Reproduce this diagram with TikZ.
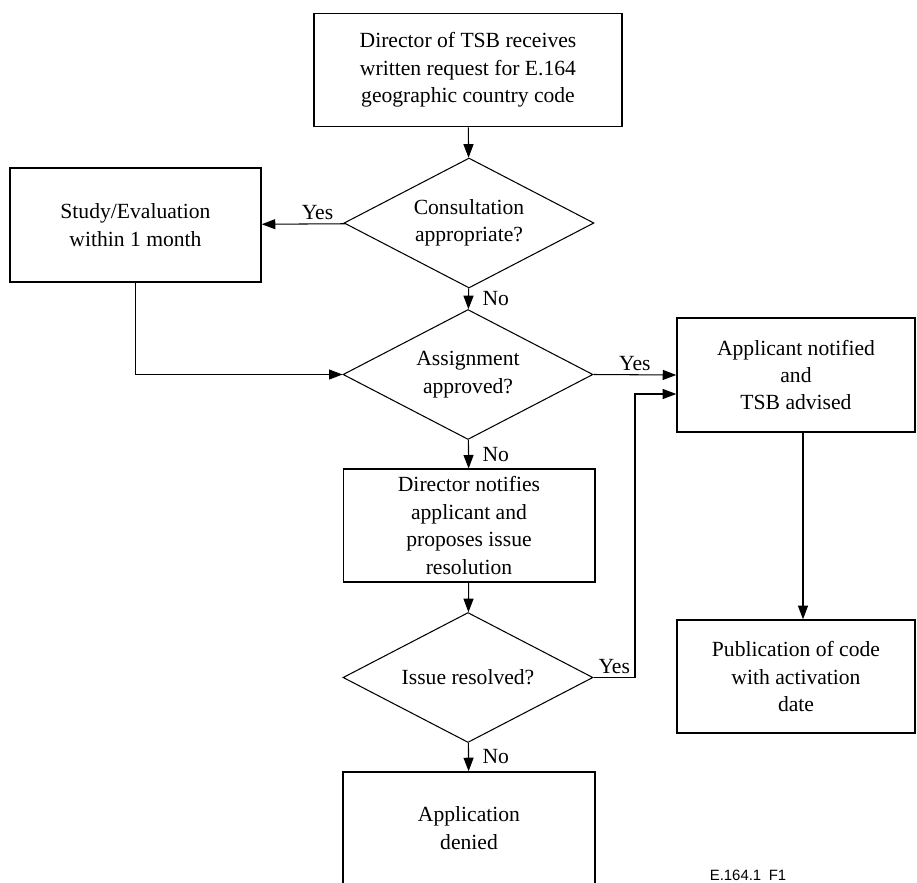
\documentclass[tikz,border=0pt]{standalone}
\usepackage{fontspec}
\setmainfont{Liberation Serif}
\newfontfamily\figfont{Liberation Sans}
\usetikzlibrary{shapes.geometric,arrows.meta}

\begin{document}
\begin{tikzpicture}[x=0.02cm,y=-0.02cm,font=\fontsize{12.3}{15.6}\selectfont]
\tikzstyle{bx} = [draw,shape=rectangle,align=center,line width=0.9pt,minimum height=2.26cm]
\tikzstyle{dec} = [draw,shape=diamond,align=center,inner sep=0pt,aspect=1.9,line width=0.6pt,minimum width=5cm,minimum height=2.6cm]
\tikzstyle{ln} = [line width=0.6pt,-{Triangle[length=0.27cm,width=0.2cm]}]
\tikzstyle{lbl} = [inner sep=2pt]
\useasboundingbox (0,0) rectangle (917,883);
% boxes and decisions
\node[bx,minimum width=6.16cm] (req) at (468,70) {Director of TSB receives\\written request for E.164\\geographic country code};
\node[dec] (cons) at (469,223) {Consultation\\appropriate?};
\node[bx,minimum width=5.02cm,minimum height=2.28cm] (study) at (135.5,225) {Study/Evaluation\\within 1 month};
\node[dec] (assign) at (468,374.5) {Assignment\\approved?};
\node[bx,minimum width=4.76cm,minimum height=2.28cm] (appl) at (796,375) {Applicant notified\\and\\TSB advised};
\node[bx,line width=0.6pt,minimum width=5.04cm] (dirn) at (469,525.5) {Director notifies\\applicant and\\proposes issue\\resolution};
\node[dec] (res) at (468,677.5) {Issue resolved?};
\node[bx,minimum width=4.76cm] (pub) at (796,676.5) {Publication of code\\with activation\\date};
\node[bx,minimum width=5.04cm,minimum height=2.24cm] (deny) at (469,828) {Application\\denied};
\node[font=\figfont\fontsize{8.5}{10}\selectfont] (fig) at (748,875) {E.164.1\enspace F1};
% connectors
\draw[ln] (req) -- (cons);
\draw[ln] (cons) -- (study) node[lbl,pos=0.33,above] {Yes};
\draw[ln] (cons) -- (assign) node[lbl,midway,right,xshift=0.2cm] {No};
\draw[ln] (study.south) |- (assign.west);
\draw[ln] (assign.east) -- (appl.west) node[lbl,midway,above] {Yes};
\draw[ln] (assign) -- (dirn) node[lbl,midway,right,xshift=0.2cm] {No};
\draw[ln] (dirn) -- (res);
\coordinate (back) at (635,394);
\draw[ln] (res.east) -| (back) node[lbl,pos=0.25,above] {Yes} -- (back -| appl.west);
\draw[ln] (res) -- (deny) node[lbl,midway,right,xshift=0.2cm] {No};
\draw[ln] ([xshift=0.14cm]appl.south) -- ([xshift=0.14cm]pub.north);
\end{tikzpicture}
\end{document}
